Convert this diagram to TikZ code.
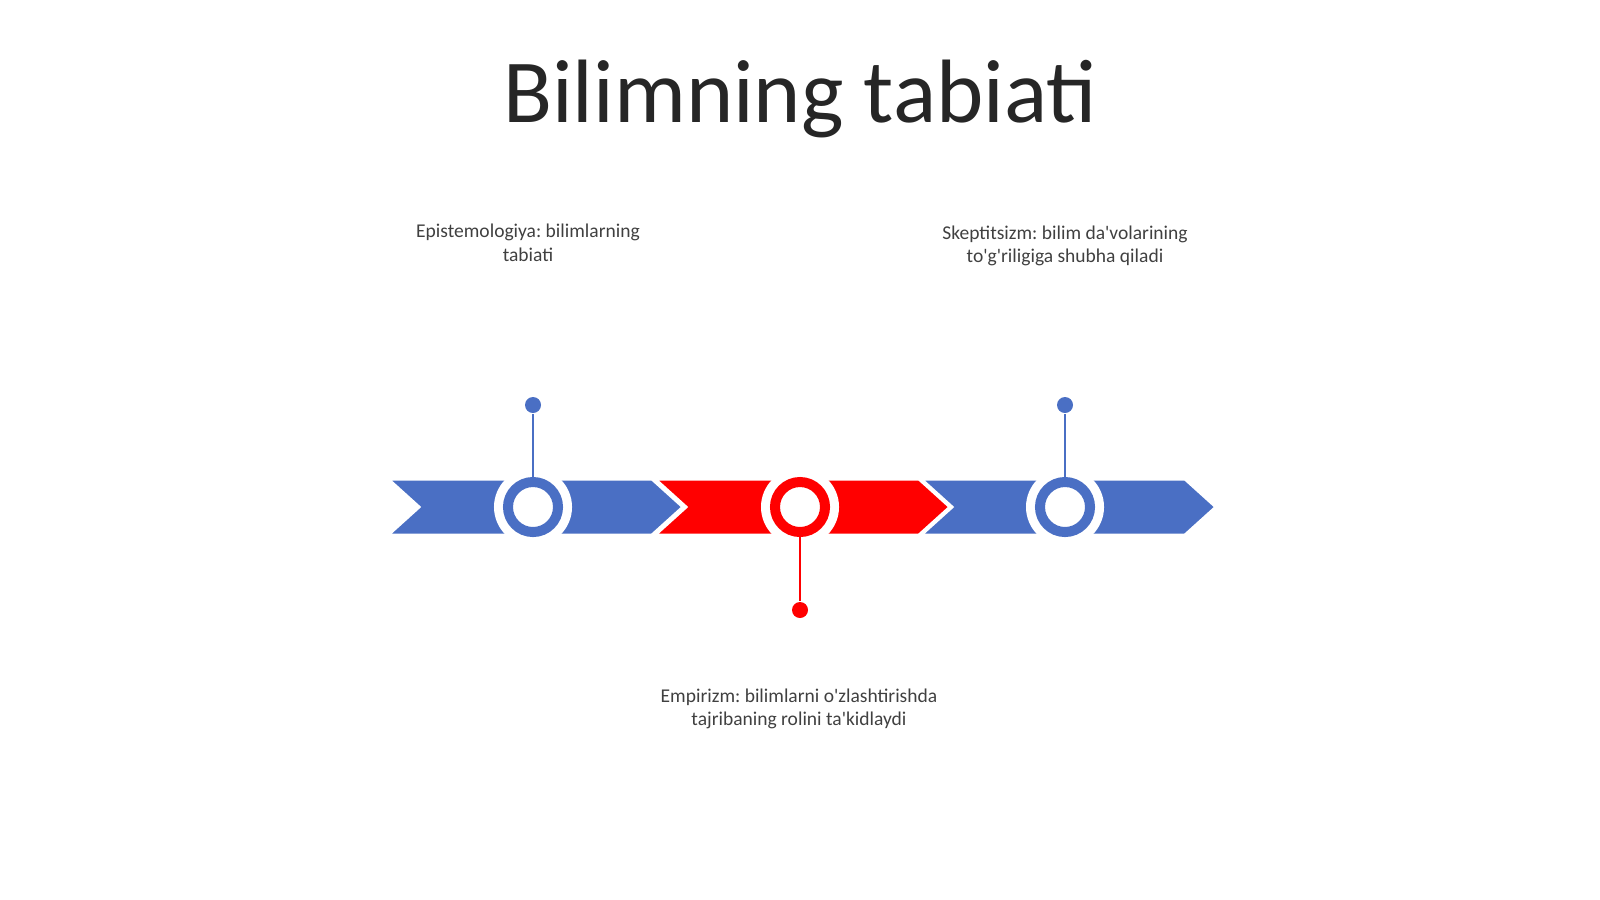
\documentclass[tikz,border=0pt]{standalone}
\usepackage{fontspec}
\setmainfont{Carlito}
\usepackage{tikz}
\definecolor{tlblue}{HTML}{4A6FC4}
\definecolor{tlred}{HTML}{FF0000}
\definecolor{tltext}{HTML}{404040}
\definecolor{tltitle}{HTML}{262626}
\frenchspacing

\tikzset{
  chevron/.style={draw=white, line width=0.03cm, line join=miter},
  halo/.style={circle, fill=white, minimum size=0.78cm, inner sep=0pt},
  ring/.style={circle, draw=#1, fill=white, line width=0.1cm, minimum size=0.5cm, inner sep=0pt},
  pindot/.style={circle, fill=#1, minimum size=0.16cm, inner sep=0pt},
  stem/.style={draw=#1, line width=0.025cm},
  labeltext/.style={text=tltext, font=\fontsize{5.55}{6.7}\selectfont, align=center},
}
\def\q{\textquotesingle}

\begin{document}
\begin{tikzpicture}[x=0.01cm, y=-0.01cm]
  \useasboundingbox (0,0) rectangle (1600,899);

  \def\ym{507} % middle of the band
  \def\h{28} % half height
  \def\w{264} % body length
  \def\p{31} % point depth

  \node[anchor=base, text=tltitle, font=\fontsize{25.6}{30}\selectfont] (title) at (800,122) {Bilimning tabiati};

  % chevrons
  \foreach \s/\col in {388/tlblue, 655/tlred, 921/tlblue}
    \filldraw[chevron, fill=\col] (\s,\ym-\h) -- (\s+\w,\ym-\h) -- (\s+\w+\p,\ym)
      -- (\s+\w,\ym+\h) -- (\s,\ym+\h) -- (\s+\p,\ym) -- cycle;

  % circles
  \foreach \x in {533, 800, 1065}
    \node[halo] at (\x,\ym) {};
  \node[ring=tlblue] (ep) at (533,\ym) {};
  \node[ring=tlred] (em) at (800,\ym) {};
  \node[ring=tlblue] (sk) at (1065,\ym) {};

  % pins
  \node[pindot=tlblue] (epdot) at (533,405) {};
  \node[pindot=tlred] (emdot) at (800,610) {};
  \node[pindot=tlblue] (skdot) at (1065,405) {};
  \draw[stem=tlblue] (ep) -- (epdot);
  \draw[stem=tlred] (em) -- (emdot);
  \draw[stem=tlblue] (sk) -- (skdot);

  % texts
  \node[labeltext] (eptext) at (528,243) {Epistemologiya: bilimlarning\\tabiati};
  \node[labeltext] (sktext) at (1065,246) {Skeptitsizm: bilim da\q volarining\\to\q g\q riligiga shubha qiladi};
  \node[labeltext] (emtext) at (799,709) {Empirizm: bilimlarni o\q zlashtirishda\\tajribaning rolini ta\q kidlaydi};
\end{tikzpicture}
\end{document}
